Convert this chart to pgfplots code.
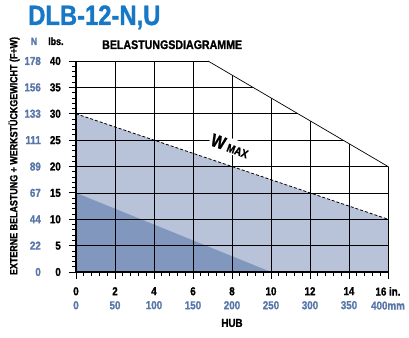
\documentclass[border=0pt]{standalone}
\usepackage{pgfplots}
\pgfplotsset{compat=1.18}
\usepackage{fontspec}
\setmainfont{Liberation Sans}[FakeStretch=0.85, BoldFeatures={FakeBold=1.2}]
\definecolor{titleblue}{RGB}{24,120,198}
\definecolor{nblue}{RGB}{88,118,168}
\definecolor{lightfill}{RGB}{184,195,217}
\definecolor{darkfill}{RGB}{130,151,190}
\newcommand{\yl}[2]{\makebox[22pt][r]{\textcolor{nblue}{#1}}\makebox[20pt][r]{#2}}
\newcommand{\xl}[2]{#1\\\textcolor{nblue}{#2}}
\begin{document}
\begin{tikzpicture}[x=1pt,y=1pt]
\useasboundingbox (-76,-65) rectangle (333,272);
\begin{axis}[
  at={(0,0)}, anchor=south west, scale only axis, width=312pt, height=211pt,
  axis on top,
  xmin=0, xmax=16, ymin=0, ymax=40,
  axis lines=left, axis line style={line width=1.6pt,-},
  xtick={0,2,...,16}, ytick={0,5,...,40},
  minor x tick num=4, minor y tick num=4,
  tick align=outside, major tick length=7pt, minor tick length=4pt,
  tick style={black, line width=0.8pt},
  grid=major, major grid style={black, line width=0.7pt},
  xticklabels={{\xl{0}{0}},{\xl{2}{50}},{\xl{4}{100}},{\xl{6}{150}},{\xl{8}{200}},{\xl{10}{250}},{\xl{12}{300}},{\xl{14}{350}},{\xl{16 in.}{400mm}}},
  yticklabels={{\yl{0}{0}},{\yl{22}{5}},{\yl{44}{10}},{\yl{67}{15}},{\yl{89}{20}},{\yl{111}{25}},{\yl{133}{30}},{\yl{156}{35}},{\yl{178}{40}}},
  xticklabel style={align=center, font=\bfseries\fontsize{11.5}{14}\selectfont, inner sep=0pt, anchor=north, yshift=-8pt},
  yticklabel style={font=\bfseries\fontsize{11.5}{13}\selectfont, inner sep=0pt, anchor=east, xshift=-8pt},
]
\addplot[fill=lightfill, draw=none] coordinates {(0,0) (0,30) (16,10) (16,0)} -- cycle;
\addplot[fill=darkfill, draw=none] coordinates {(0,0) (0,15) (10,0)} -- cycle;
\end{axis}
\begin{axis}[
  at={(0,0)}, anchor=south west, scale only axis, width=312pt, height=211pt,
  xmin=0, xmax=16, ymin=0, ymax=40, hide axis, clip=false,
]
\addplot[fill=white, draw=none] coordinates {(6.77,40) (16,20) (16.3,20) (16.3,40.6) (6.77,40.6)} -- cycle;
\addplot[black, line width=0.7pt] coordinates {(6.77,40) (16,20)};
\addplot[black, line width=0.8pt, dash pattern=on 3pt off 2pt] coordinates {(0,30) (16,10)};
\node[fill=white, rotate=-20, inner sep=1.5pt, font=\bfseries] at (axis cs:7.9,23.9) {\fontsize{18}{18}\selectfont W\hspace{3pt}\fontsize{11.5}{12}\selectfont MAX};
\end{axis}
\node[anchor=base west, inner sep=0pt, text=titleblue, font=\bfseries\fontsize{28}{28}\selectfont] at (-48,247) {DLB-12-N,U};
\node[anchor=base west, inner sep=0pt, font=\bfseries\fontsize{12.5}{12}\selectfont] at (26,223) {BELASTUNGSDIAGRAMME};
\node[anchor=base, inner sep=0pt, text=nblue, font=\bfseries\fontsize{10.5}{10}\selectfont] at (-42,227) {N};
\node[anchor=base west, inner sep=0pt, font=\bfseries\fontsize{10.5}{10}\selectfont] at (-28,227) {lbs.};
\node[rotate=90, inner sep=0pt, font=\bfseries\fontsize{10.5}{10}\selectfont] at (-62,116) {EXTERNE BELASTUNG + WERKSTÜCKGEWICHT (F+W)};
\node[inner sep=0pt, font=\bfseries\fontsize{11.5}{11}\selectfont] at (156,-51) {HUB};
\end{tikzpicture}
\end{document}
